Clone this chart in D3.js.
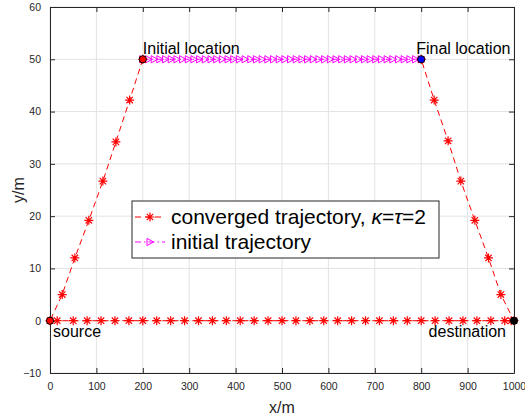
<!DOCTYPE html>
<html>
<head>
<meta charset="utf-8">
<script src="https://cdn.jsdelivr.net/npm/d3@7"></script>
<style>
  body { margin: 0; background: #fff; }
  text { font-family: "Liberation Sans", Arial, sans-serif; }
</style>
</head>
<body>
<div class="container"></div>
<script>
// converged trajectory: initial location -> source -> destination -> final location
var convX = [200, 171.6, 142, 114, 83.7, 53.5, 26.3,
  0, 15.5, 50, 80, 110, 140, 170, 200, 230, 260, 290, 320, 350, 380, 410, 440, 470, 500,
  530, 560, 590, 620, 650, 680, 710, 740, 770, 800, 830, 860, 890, 920, 950, 980, 994, 1000,
  971.7, 945, 915.6, 885.4, 858, 828, 800];
var convY = [50, 42.2, 34.2, 26.7, 19.2, 12.0, 5.0,
  0, 0, 0, 0, 0, 0, 0, 0, 0, 0, 0, 0, 0, 0, 0, 0, 0, 0,
  0, 0, 0, 0, 0, 0, 0, 0, 0, 0, 0, 0, 0, 0, 0, 0, 0, 0,
  5.0, 12.0, 19.2, 26.7, 34.4, 42.2, 50];

// initial trajectory: straight line at y = 50
var initX = [200, 212.2, 224.5, 236.7, 249, 261.2, 273.5, 285.7, 298, 310.2, 322.4, 334.7,
  346.9, 359.2, 371.4, 383.7, 395.9, 408.2, 420.4, 432.7, 444.9, 457.1, 469.4, 481.6, 493.9,
  506.1, 518.4, 530.6, 542.9, 555.1, 567.3, 579.6, 591.8, 604.1, 616.3, 628.6, 640.8, 653.1,
  665.3, 677.6, 689.8, 702, 714.3, 726.5, 738.8, 751, 763.3, 775.5, 787.8, 800];
var initY = 50;

var xTicks = [0, 100, 200, 300, 400, 500, 600, 700, 800, 900, 1000];
var yTicks = [-10, 0, 10, 20, 30, 40, 50, 60];

// special points
var spots = [
  {name: 'Initial location', x: 200, y: 50, fill: '#ff0000'},
  {name: 'Final location', x: 800, y: 50, fill: '#0000ff'},
  {name: 'source', x: 0, y: 0, fill: '#ff0000'},
  {name: 'destination', x: 1000, y: 0, fill: '#000000'}
];

var W = 525, H = 420;
var plot = {left: 50, right: 514, top: 7, bottom: 373};
var axisColor = '#262626';

var svg = d3.select('.container').append('svg')
  .attr('width', W)
  .attr('height', H);

var x = d3.scaleLinear().domain([0, 1000]).range([plot.left, plot.right]);
var y = d3.scaleLinear().domain([-10, 60]).range([plot.bottom, plot.top]);

// grid
svg.append('g').selectAll('line')
  .data(xTicks)
  .enter().append('line')
  .attr('x1', function(d){ return x(d); }).attr('x2', function(d){ return x(d); })
  .attr('y1', plot.top).attr('y2', plot.bottom)
  .attr('stroke', '#e3e3e3');
svg.append('g').selectAll('line')
  .data(yTicks)
  .enter().append('line')
  .attr('y1', function(d){ return y(d); }).attr('y2', function(d){ return y(d); })
  .attr('x1', plot.left).attr('x2', plot.right)
  .attr('stroke', '#e3e3e3');

// axes (ticks inside, box on)
var fmt = d3.format('d');
var bottomAxis = d3.axisBottom(x).tickValues(xTicks).tickFormat(fmt).tickSizeInner(-5).tickSizeOuter(0).tickPadding(10);
var leftAxis = d3.axisLeft(y).tickValues(yTicks).tickFormat(fmt).tickSizeInner(-5).tickSizeOuter(0).tickPadding(9);
var topAxis = d3.axisTop(x).tickValues(xTicks).tickSizeInner(-5).tickSizeOuter(0).tickFormat('');
var rightAxis = d3.axisRight(y).tickValues(yTicks).tickSizeInner(-5).tickSizeOuter(0).tickFormat('');

function styleAxis(g) {
  g.selectAll('path').attr('stroke', axisColor);
  g.selectAll('line').attr('stroke', axisColor);
  g.selectAll('text').attr('fill', axisColor)
    .style('font-family', '"Liberation Sans", Arial, sans-serif')
    .style('font-size', '10.5px');
}

svg.append('g').attr('transform', 'translate(0,' + plot.bottom + ')').call(bottomAxis).call(styleAxis);
svg.append('g').attr('transform', 'translate(' + plot.left + ',0)').call(leftAxis).call(styleAxis);
svg.append('g').attr('transform', 'translate(0,' + plot.top + ')').call(topAxis).call(styleAxis);
svg.append('g').attr('transform', 'translate(' + plot.right + ',0)').call(rightAxis).call(styleAxis);

// markers
var starPath = 'M0,-4.5V4.5M-4.5,0H4.5M-3.2,-3.2L3.2,3.2M-3.2,3.2L3.2,-3.2';
var triPath = 'M-3,-3.6L3.6,0L-3,3.6Z';

var conv = convX.map(function(d, i){ return [d, convY[i]]; });
var init = initX.map(function(d){ return [d, initY]; });

var line = d3.line()
  .x(function(d){ return x(d[0]); })
  .y(function(d){ return y(d[1]); });

svg.append('path')
  .datum(init)
  .attr('d', line)
  .attr('fill', 'none')
  .attr('stroke', '#ff00ff')
  .attr('stroke-dasharray', '6,3,1.5,3');

svg.append('g').selectAll('path')
  .data(init)
  .enter().append('path')
  .attr('d', triPath)
  .attr('transform', function(d){ return 'translate(' + x(d[0]) + ',' + y(d[1]) + ')'; })
  .attr('fill', 'none')
  .attr('stroke', '#ff00ff');

svg.append('path')
  .datum(conv)
  .attr('d', line)
  .attr('fill', 'none')
  .attr('stroke', '#ff0000')
  .attr('stroke-dasharray', '6,4');

svg.append('g').selectAll('path')
  .data(conv)
  .enter().append('path')
  .attr('d', starPath)
  .attr('transform', function(d){ return 'translate(' + x(d[0]) + ',' + y(d[1]) + ')'; })
  .attr('fill', 'none')
  .attr('stroke', '#ff0000')
  .attr('stroke-width', 1.2);

svg.append('g').selectAll('circle')
  .data(spots)
  .enter().append('circle')
  .attr('cx', function(d){ return x(d.x); })
  .attr('cy', function(d){ return y(d.y); })
  .attr('r', 3.6)
  .attr('fill', function(d){ return d.fill; })
  .attr('stroke', '#000')
  .attr('stroke-width', 1);

// point labels
var labelPos = {
  'Initial location': {dx: 0, dy: -5, anchor: 'start'},
  'Final location': {dx: -5, dy: -5, anchor: 'start'},
  'source': {dx: 3, dy: 16, anchor: 'start'},
  'destination': {dx: -8, dy: 16, anchor: 'end'}
};
svg.append('g').selectAll('text')
  .data(spots)
  .enter().append('text')
  .attr('x', function(d){ return x(d.x) + labelPos[d.name].dx; })
  .attr('y', function(d){ return y(d.y) + labelPos[d.name].dy; })
  .attr('text-anchor', function(d){ return labelPos[d.name].anchor; })
  .style('font-size', '16px')
  .attr('fill', '#000')
  .text(function(d){ return d.name; });

// axis labels
svg.append('text')
  .attr('x', (plot.left + plot.right) / 2)
  .attr('y', 413)
  .attr('text-anchor', 'middle')
  .attr('fill', axisColor)
  .style('font-size', '16px')
  .text('x/m');
svg.append('text')
  .attr('transform', 'translate(24,' + (plot.top + plot.bottom) / 2 + ') rotate(-90)')
  .attr('text-anchor', 'middle')
  .attr('fill', axisColor)
  .style('font-size', '16px')
  .text('y/m');

// legend
var legend = svg.append('g');
legend.append('rect')
  .attr('x', 132).attr('y', 201)
  .attr('width', 307).attr('height', 57)
  .attr('fill', '#fff')
  .attr('stroke', axisColor);

legend.append('line')
  .attr('x1', 135).attr('x2', 165).attr('y1', 217).attr('y2', 217)
  .attr('stroke', '#ff0000').attr('stroke-dasharray', '6,4');
legend.append('path')
  .attr('d', starPath).attr('transform', 'translate(150,217)')
  .attr('fill', 'none').attr('stroke', '#ff0000').attr('stroke-width', 1.2);

legend.append('line')
  .attr('x1', 135).attr('x2', 165).attr('y1', 242).attr('y2', 242)
  .attr('stroke', '#ff00ff').attr('stroke-dasharray', '6,3,1.5,3');
legend.append('path')
  .attr('d', triPath).attr('transform', 'translate(150,242)')
  .attr('fill', 'none').attr('stroke', '#ff00ff');

var t1 = legend.append('text')
  .attr('x', 171).attr('y', 224)
  .style('font-size', '21px')
  .attr('fill', '#000');
t1.append('tspan').text('converged trajectory, ');
t1.append('tspan').style('font-style', 'italic').text('\u03ba');
t1.append('tspan').text('=');
t1.append('tspan').style('font-style', 'italic').text('\u03c4');
t1.append('tspan').text('=2');

legend.append('text')
  .attr('x', 171).attr('y', 249)
  .style('font-size', '21px')
  .attr('fill', '#000')
  .text('initial trajectory');
</script>
</body>
</html>
